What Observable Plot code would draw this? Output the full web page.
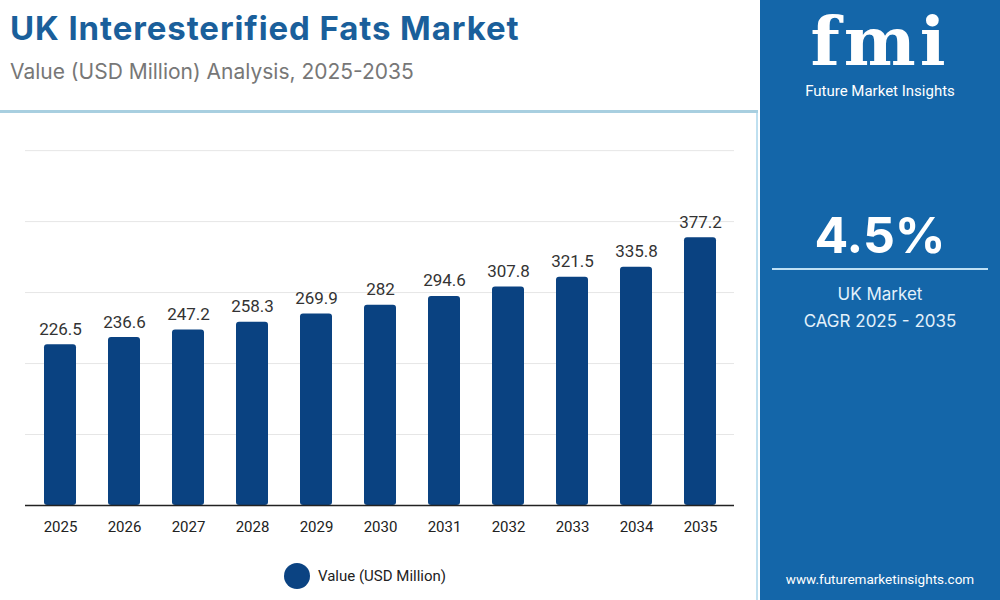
<!DOCTYPE html>
<html>
<head>
<meta charset="utf-8">
<script src="https://cdn.jsdelivr.net/npm/d3@7"></script>
<script src="https://cdn.jsdelivr.net/npm/@observablehq/plot@0.6"></script>
<style>
  html, body { margin: 0; padding: 0; background: #fff; }
  body { width: 1000px; height: 600px; position: relative; overflow: hidden; font-family: Roboto, "Noto Sans", sans-serif; }
  #title { position: absolute; left: 10px; top: 8px; font-family: Inter, "Open Sans", sans-serif; font-weight: 700; font-size: 33px; color: #1a5f9b; letter-spacing: 0.9px; line-height: 40px; }
  #subtitle { position: absolute; left: 10px; top: 58px; font-family: Inter, "Open Sans", sans-serif; font-size: 21px; color: #777; line-height: 28px; }
  #rule { position: absolute; left: 0; top: 110px; width: 758px; height: 3px; background: #a8cfe0; }
  #panel { position: absolute; left: 760px; top: 0; width: 240px; height: 600px; background: #1466a9; }
  #vline { position: absolute; left: 756px; top: 113px; width: 2px; height: 487px; background: #bfe0f0; }
  #chart { position: absolute; left: 0; top: 120px; }
  #legend { position: absolute; left: 284px; top: 563px; display: flex; align-items: center; font-size: 15px; color: #222; }
  #legend .dot { width: 26px; height: 26px; border-radius: 50%; background: #0b4382; margin-right: 8px; }
  .ptxt { position: absolute; width: 240px; left: 0; text-align: center; color: #fff; }
</style>
</head>
<body>
<div id="title">UK Interesterified Fats Market</div>
<div id="subtitle">Value (USD Million) Analysis, 2025-2035</div>
<div id="rule"></div>
<div id="vline"></div>
<div id="panel">
  <div class="ptxt" style="top:8px;font-family:'DejaVu Serif',serif;font-weight:700;font-size:68px;line-height:66px;letter-spacing:4px;">fmi</div>
  <div class="ptxt" style="top:82px;font-size:15px;line-height:18px;">Future Market Insights</div>
  <div class="ptxt" style="top:205px;font-family:Inter,'Open Sans',sans-serif;font-weight:700;font-size:50px;">4.5%</div>
  <div style="position:absolute;left:12px;top:268px;width:216px;height:2px;background:#bfe0f5;"></div>
  <div class="ptxt" style="top:284px;font-family:Inter,'Open Sans',sans-serif;font-size:17px;color:#e3f1fb;">UK Market</div>
  <div class="ptxt" style="top:311px;font-family:Inter,'Open Sans',sans-serif;font-size:17px;color:#e3f1fb;">CAGR 2025 - 2035</div>
  <div class="ptxt" style="top:571px;font-size:13.5px;">www.futuremarketinsights.com</div>
</div>
<div id="chart"></div>
<div id="legend"><div class="dot"></div><span>Value (USD Million)</span></div>
<script>
const years = ["2025","2026","2027","2028","2029","2030","2031","2032","2033","2034","2035"];
const values = [226.5, 236.6, 247.2, 258.3, 269.9, 282, 294.6, 307.8, 321.5, 335.8, 377.2];
const labels = ["226.5","236.6","247.2","258.3","269.9","282","294.6","307.8","321.5","335.8","377.2"];
const gridTicks = [100, 200, 300, 400, 500];

const data = years.map((y, i) => ({year: y, value: values[i], label: labels[i]}));

const chart = Plot.plot({
  width: 760,
  height: 430,
  marginLeft: 25,
  marginRight: 26,
  marginTop: 28,
  marginBottom: 45,
  style: {fontFamily: "Roboto, sans-serif", background: "transparent"},
  x: {domain: years, paddingInner: 0.5, paddingOuter: 0.25, label: null},
  y: {domain: [0, 503], axis: null},
  marks: [
    Plot.ruleY(gridTicks, {stroke: "#e6e6e6", strokeWidth: 1}),
    Plot.barY(data, {x: "year", y: "value", fill: "#0a4281", rx: 3}),
    Plot.ruleY([0], {stroke: "#222", strokeWidth: 1.5}),
    Plot.text(data, {x: "year", y: "value", text: "label", dy: -10, lineAnchor: "bottom", fontSize: 17, fill: "#333"}),
    Plot.axisX({tickSize: 0, tickPadding: 16, fontSize: 15, fill: "#222", label: null})
  ]
});
document.getElementById("chart").appendChild(chart);
</script>
</body>
</html>
